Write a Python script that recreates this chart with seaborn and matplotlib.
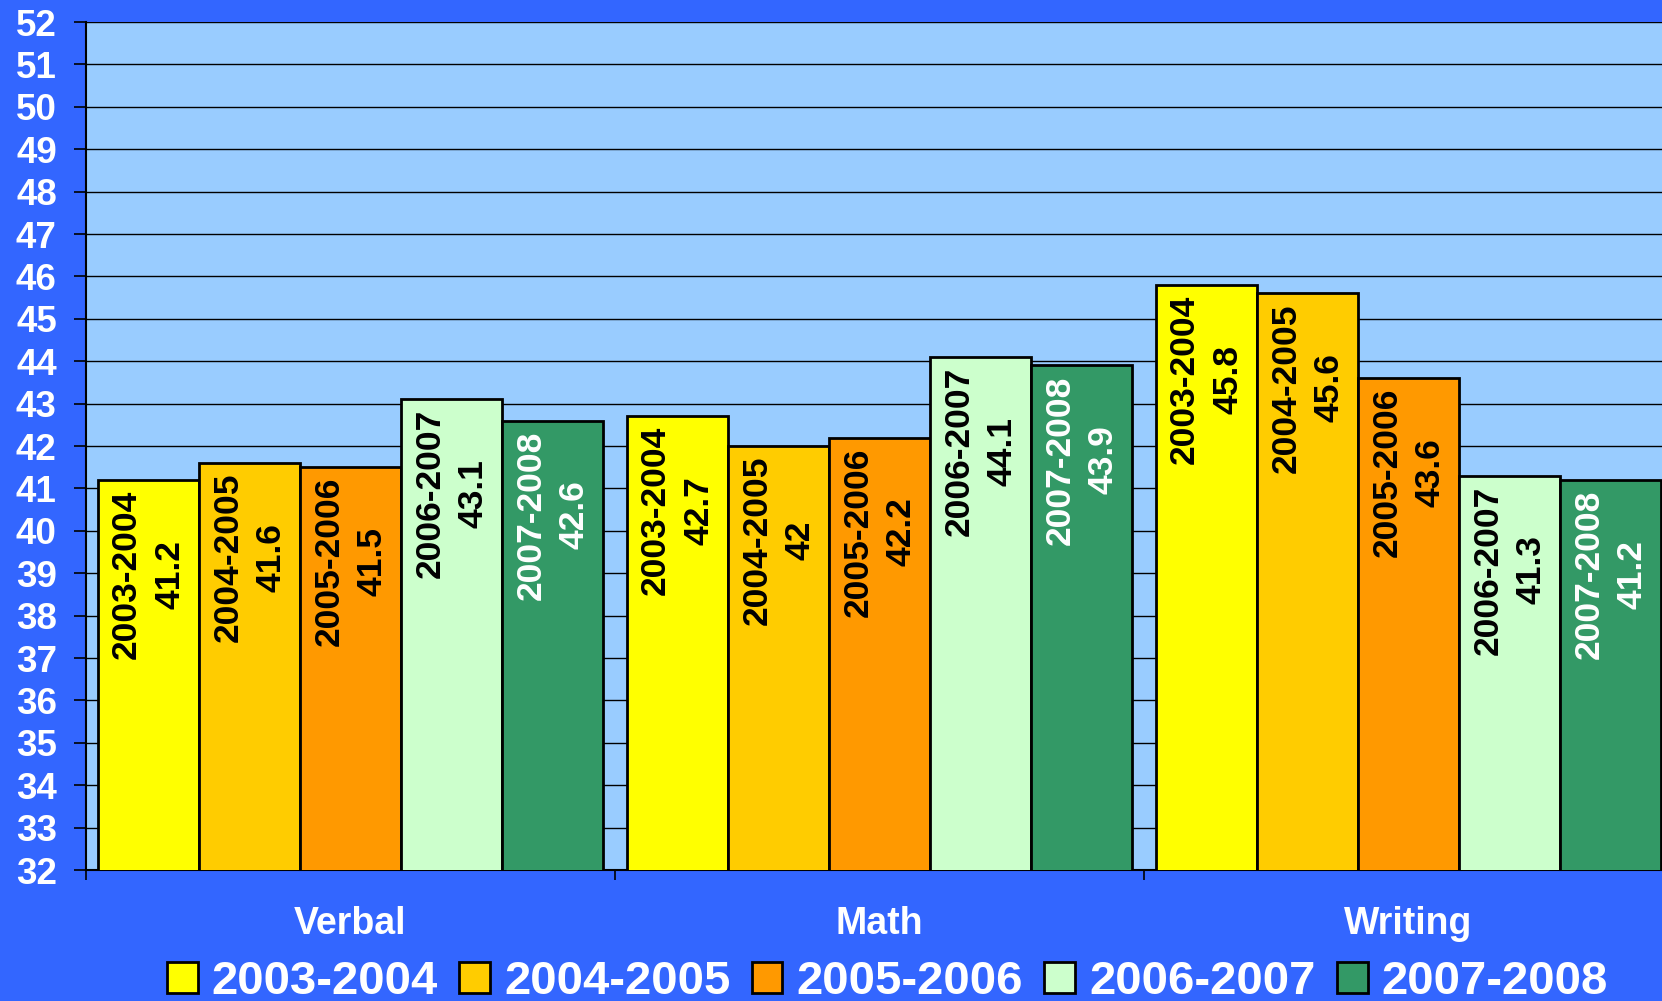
import pandas as pd
import numpy as np
import matplotlib.pyplot as plt
import seaborn as sns
from matplotlib.patches import Patch

# data
subjects = ['Verbal', 'Math', 'Writing']
years = ['2003-2004', '2004-2005', '2005-2006', '2006-2007', '2007-2008']
verbal = [41.2, 41.6, 41.5, 43.1, 42.6]
math = [42.7, 42.0, 42.2, 44.1, 43.9]
writing = [45.8, 45.6, 43.6, 41.3, 41.2]

colors = ['#FFFF00', '#FFCC00', '#FF9900', '#CCFFCC', '#339966']
label_colors = ['black', 'black', 'black', 'black', 'white']

rows = []
for subj, vals in zip(subjects, [verbal, math, writing]):
    for yr, v in zip(years, vals):
        rows.append({'subject': subj, 'year': yr, 'score': v})
df = pd.DataFrame(rows)

sns.set_style('white')
plt.rcParams['font.family'] = ['Liberation Sans', 'DejaVu Sans']
plt.rcParams['font.weight'] = 'bold'

fig = plt.figure(figsize=(16.62, 10.01), dpi=100)
fig.patch.set_facecolor('#3366FF')
# plot area runs a little past the right edge, as in the original
ax = fig.add_axes([86 / 1662, 1 - 870 / 1001, 1587 / 1662, (870 - 22) / 1001])
ax.set_facecolor('#99CCFF')

sns.barplot(data=df, x='subject', y='score', hue='year', palette=colors,
            width=0.955, saturation=1, edgecolor='black', linewidth=2,
            ax=ax, legend=False, zorder=3)

ax.set_ylim(32, 52)
ax.set_xlim(-0.5, 2.5)
ax.set_yticks(range(32, 53))
ax.yaxis.grid(True, color='black', linewidth=1, zorder=0)
ax.set_axisbelow(True)
ax.tick_params(axis='y', length=9, width=1.2, color='black', pad=12,
               labelsize=26.5, labelcolor='white', left=True)
for lbl in ax.get_yticklabels():
    lbl.set_fontweight('bold')

# category boundaries as major ticks, names on minor ticks
ax.set_xticks([-0.5, 0.5, 1.5])
ax.set_xticklabels([])
ax.set_xticks([0, 1, 2], minor=True)
ax.set_xticklabels(subjects, minor=True, fontsize=27, fontweight='bold', color='white')
ax.tick_params(axis='x', which='major', length=7, width=1.2, color='black', bottom=True)
ax.tick_params(axis='x', which='minor', length=0, pad=26)
ax.set_xlabel('')
ax.set_ylabel('')

for side in ['top', 'right']:
    ax.spines[side].set_visible(False)
ax.spines['left'].set_color('black')
ax.spines['left'].set_linewidth(1.5)
ax.spines['bottom'].set_color('black')
ax.spines['bottom'].set_linewidth(1.5)

# labels inside the top of each bar
for i, cont in enumerate(ax.containers):
    for bar in cont:
        h = bar.get_height()
        ax.annotate(f'{years[i]}\n{h:g}',
                    (bar.get_x() + bar.get_width() / 2, h),
                    xytext=(0, -7), textcoords='offset points',
                    rotation=90, ha='center', va='top', multialignment='center',
                    fontsize=25.5, fontweight='bold', color=label_colors[i],
                    linespacing=1.4, zorder=5)

handles = [Patch(facecolor=c, edgecolor='black', linewidth=2) for c in colors]
leg = fig.legend(handles, years, loc='center', ncol=5,
                 bbox_to_anchor=(0.534, 0.019), frameon=False,
                 fontsize=34, handlelength=0.65, handleheight=0.65,
                 handletextpad=0.3, columnspacing=0.45, borderpad=0)
for t in leg.get_texts():
    t.set_color('white')
    t.set_fontweight('bold')

fig.savefig('out.png', dpi=100, facecolor=fig.get_facecolor())
